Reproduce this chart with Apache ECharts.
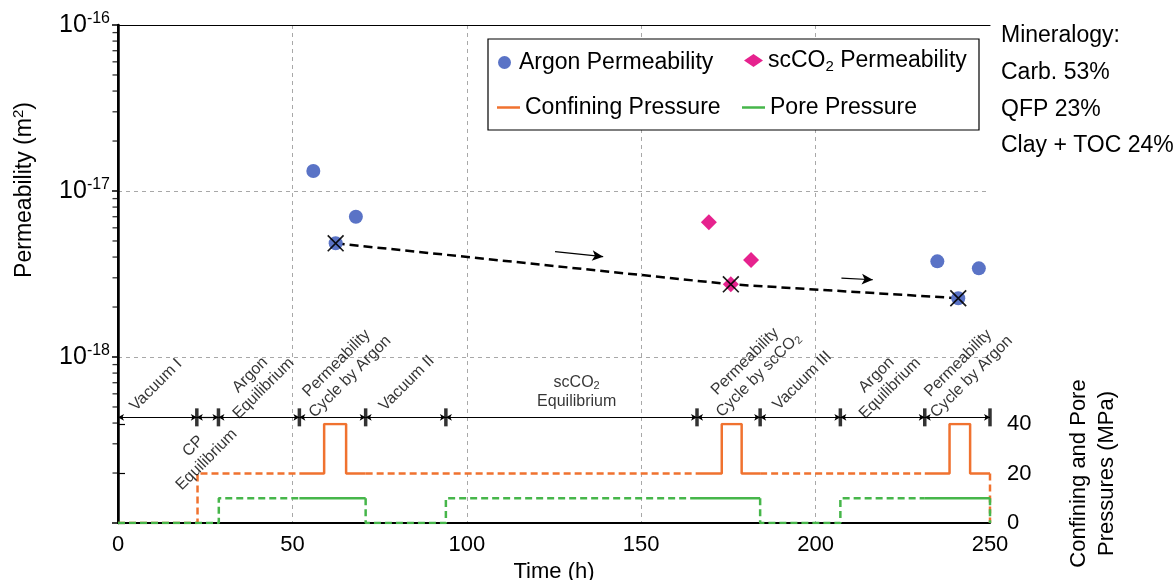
<!DOCTYPE html>
<html><head><meta charset="utf-8">
<script src="https://cdn.jsdelivr.net/npm/echarts@6/dist/echarts.min.js"></script>
<style>html,body{margin:0;padding:0;background:#fff}#c{width:1174px;height:580px}</style>
</head><body><div id="c"></div>
<script>
// ---------------- data ----------------
const argonTime = [56.0, 62.4, 68.2, 234.9, 240.9, 246.8];
const argonPerm = [1.32e-17, 4.84e-18, 7.0e-18, 3.77e-18, 2.26e-18, 3.42e-18];
const co2Time = [169.4, 175.7, 181.5];
const co2Perm = [6.48e-18, 2.74e-18, 3.84e-18];
const trendTime = [62.4, 175.7, 240.9];
const trendPerm = [4.84e-18, 2.74e-18, 2.26e-18];
const arrowTime = [[125.3, 139.1], [207.4, 216.4]];
const arrowPerm = [[4.31e-18, 4.02e-18], [2.99e-18, 2.92e-18]];
const phaseBounds = [0, 22.6, 28.8, 52.0, 71.0, 94.0, 166.0, 184.1, 207.1, 231.3, 250];
const timelineLevel = 4.33e-19;
const phaseNames = ['Vacuum I', 'Argon\nEquilibrium', 'Permeability\nCycle by Argon', 'Vacuum II',
  'scCO{s|2}\nEquilibrium', 'Permeability\nCycle by scCO{s|2}', 'Vacuum III', 'Argon\nEquilibrium',
  'Permeability\nCycle by Argon', 'CP\nEquilibrium'];
const phaseLabelTime = [10.9, 39.8, 64.6, 82.8, 131.5, 181.7, 196.2, 219.4, 242.8, 23.5];
const phaseLabelLevel = [6.78e-19, 7.1e-19, 8.35e-19, 6.95e-19, 6.18e-19, 8.55e-19, 7.2e-19, 7.1e-19, 8.35e-19, 2.64e-19];
const phaseLabelAngle = [45, 45, 45, 45, 0, 45, 45, 45, 45, 45];
const confTime = [0, 22.8, 22.8, 59.1, 59.1, 65.4, 65.4, 173.1, 173.1, 178.8, 178.8, 238.4, 238.4, 244.3, 244.3, 250, 250];
const confPres = [0, 0, 20, 20, 40, 40, 20, 20, 40, 40, 20, 20, 40, 40, 20, 20, 0];
const poreTime = [0, 28.9, 28.9, 71.0, 71.0, 94.0, 94.0, 184.1, 184.1, 207.1, 207.1, 250, 250];
const porePres = [0, 0, 10, 10, 0, 0, 10, 10, 0, 0, 10, 10, 0];
const solidWindows = [[52.0, 71.0], [166.0, 184.1], [231.3, 250]];
const permDecades = [-19, -18, -17, -16];
const mineralogy = ['Mineralogy:', 'Carb. 53%', 'QFP 23%', 'Clay + TOC 24%'];

// ---------------- helpers ----------------
const FONT = '"Liberation Sans", Arial, Helvetica, sans-serif';
const BLUE = '#5a73c6', PINK = '#e6228e', ORANGE = '#f0722f', GREEN = '#46b64a';

function splitSteps(ts, ps, windows) {
  const inside = x => windows.some(w => x > w[0] + 1e-9 && x < w[1] - 1e-9);
  const cuts = [].concat(...windows);
  const pieces = [];
  for (let i = 0; i < ts.length - 1; i++) {
    const x0 = ts[i], x1 = ts[i + 1], y0 = ps[i], y1 = ps[i + 1];
    if (x0 === x1) { pieces.push({ solid: inside(x0), pts: [[x0, y0], [x1, y1]] }); continue; }
    const xs = [x0, ...cuts.filter(c => c > x0 && c < x1), x1];
    for (let k = 0; k < xs.length - 1; k++) {
      pieces.push({ solid: inside((xs[k] + xs[k + 1]) / 2), pts: [[xs[k], y0], [xs[k + 1], y0]] });
    }
  }
  const out = [];
  pieces.forEach(p => {
    const last = out[out.length - 1];
    if (last && last.solid === p.solid) last.pts.push(p.pts[1]);
    else out.push({ solid: p.solid, pts: p.pts.slice() });
  });
  return out;
}

function pressureSeries(name, color, ts, ps) {
  const segs = splitSteps(ts, ps, solidWindows);
  const solid = segs.filter(s => s.solid), dashed = segs.filter(s => !s.solid);
  return solid.concat(dashed).map(s => ({
    type: 'line', name, xAxisIndex: 2, yAxisIndex: 2, data: s.pts,
    symbol: 'none', silent: true, z: 3,
    lineStyle: { color, width: 2.5, type: s.solid ? 'solid' : [7, 4] },
    itemStyle: { color }
  }));
}

const minorTicks = [];
permDecades.slice(0, 3).forEach(d => { for (let k = 2; k <= 9; k++) minorTicks.push([0, k * Math.pow(10, d)]); });

const segLines = [];
for (let i = 0; i < phaseBounds.length - 1; i++) {
  segLines.push([{ coord: [phaseBounds[i], timelineLevel] }, { coord: [phaseBounds[i + 1], timelineLevel] }]);
}

const chart = echarts.init(document.getElementById('c'));
const XMARK = 'path://M0,0.7L0.7,0L10,9.3L9.3,10Z M9.3,0L10,0.7L0.7,10L0,9.3Z';

const option = {
  animation: false,
  textStyle: { fontFamily: FONT },
  grid: [
    { left: 118, right: 184, top: 25, bottom: 57, containLabel: false, outerBoundsMode: 'none' },
    { left: 118, right: 184, top: 424, bottom: 57, containLabel: false, outerBoundsMode: 'none' }
  ],
  xAxis: [
    { gridIndex: 0, type: 'value', min: 0, max: 250, interval: 50, position: 'bottom',
      axisLine: { lineStyle: { color: '#000', width: 2 } }, axisTick: { show: false },
      axisLabel: { color: '#000', fontSize: 22, margin: 11, fontFamily: FONT },
      splitLine: { show: true, showMinLine: false, showMaxLine: false, lineStyle: { color: '#a8a8a8', type: [4, 4], width: 1 } },
      name: 'Time (h)', nameLocation: 'middle', nameGap: 36,
      nameTextStyle: { color: '#000', fontSize: 22, fontFamily: FONT } },
    { gridIndex: 0, type: 'value', min: 0, max: 250, position: 'top',
      axisLine: { show: true, onZero: false, lineStyle: { color: '#000', width: 1.2 } },
      axisTick: { show: false }, axisLabel: { show: false }, splitLine: { show: false } },
    { gridIndex: 1, type: 'value', min: 0, max: 250, show: false }
  ],
  yAxis: [
    { gridIndex: 0, type: 'log', logBase: 10, min: 1e-19, max: 1e-16, position: 'left',
      axisLine: { show: true, lineStyle: { color: '#000', width: 2.5 } },
      axisTick: { show: true, inside: false, length: 6, lineStyle: { color: '#000', width: 1.5 } },
      axisLabel: { margin: 8, fontFamily: FONT,
        formatter: v => { const e = Math.round(Math.log10(v)); return e === -19 ? '' : '{b|10}{e|' + e + '}'; },
        rich: { b: { fontSize: 25, color: '#000', fontFamily: FONT },
                e: { fontSize: 16, color: '#000', fontFamily: FONT, padding: [0, 0, 12, 0] } } },
      splitLine: { show: true, showMinLine: false, showMaxLine: false, lineStyle: { color: '#a8a8a8', type: [4, 4], width: 1 } } },
    { gridIndex: 0, type: 'value', position: 'right', min: 0, max: 1,
      axisLine: { show: true, lineStyle: { color: '#000', width: 2 } },
      axisTick: { show: false }, axisLabel: { show: false }, splitLine: { show: false } },
    { gridIndex: 1, type: 'value', position: 'right', min: 0, max: 40, interval: 20,
      axisLine: { show: false },
      axisTick: { show: true, inside: false, length: 7, lineStyle: { color: '#000', width: 1.2 } },
      axisLabel: { color: '#000', fontSize: 22, margin: 17, fontFamily: FONT },
      splitLine: { show: false },
      name: 'Confining and Pore\nPressures (MPa)', nameLocation: 'middle', nameRotate: 90, nameGap: 75,
      nameTextStyle: { color: '#000', fontSize: 22, lineHeight: 28, fontFamily: FONT } }
  ],
  legend: [
    { data: ['Argon Permeability'], left: 498, top: 51, itemWidth: 19, itemHeight: 13, padding: 0, z: 10,
      selectedMode: false, textStyle: { fontSize: 23, color: '#000', fontFamily: FONT } },
    { data: ['scCO2 Permeability'], left: 744, top: 49, itemWidth: 19, itemHeight: 13, padding: 0, z: 10,
      selectedMode: false, formatter: () => '{a|scCO}{s|2}{a| Permeability}',
      textStyle: { fontSize: 23, color: '#000', fontFamily: FONT,
        rich: { a: { fontSize: 23, color: '#000', fontFamily: FONT },
                s: { fontSize: 15, color: '#000', fontFamily: FONT, padding: [12, 0, 0, 0] } } } },
    { data: [{ name: 'Confining Pressure', icon: 'rect' }], left: 497, top: 96, itemWidth: 23, itemHeight: 2.5, padding: 0, z: 10,
      selectedMode: false, textStyle: { fontSize: 23, color: '#000', fontFamily: FONT } },
    { data: [{ name: 'Pore Pressure', icon: 'rect' }], left: 742, top: 96, itemWidth: 23, itemHeight: 2.5, padding: 0, z: 10,
      selectedMode: false, textStyle: { fontSize: 23, color: '#000', fontFamily: FONT } }
  ],
  graphic: [
    { type: 'rect', shape: { x: 488, y: 39, width: 491, height: 91 }, z: 3,
      style: { fill: '#fff', stroke: '#000', lineWidth: 1.2 } },
    ...mineralogy.map((t, i) => ({ type: 'text', x: 1001, y: 36 + i * 36.7, z: 5,
      style: { text: t, font: '23px ' + FONT, fill: '#000', textVerticalAlign: 'middle' } })),
    { type: 'text', x: 25, y: 190, rotation: Math.PI / 2, z: 5,
      style: { text: '{a|Permeability (m}{s|2}{a|)}', textAlign: 'center', textVerticalAlign: 'middle',
        rich: { a: { fontSize: 23, fontFamily: FONT, fill: '#000', color: '#000' },
                s: { fontSize: 15, fontFamily: FONT, fill: '#000', color: '#000', padding: [0, 0, 12, 0] } } } }
  ],
  series: [
    ...pressureSeries('Confining Pressure', ORANGE, confTime, confPres),
    ...pressureSeries('Pore Pressure', GREEN, poreTime, porePres),
    { type: 'scatter', name: 'minorTicks', xAxisIndex: 0, yAxisIndex: 0, data: minorTicks, silent: true, clip: false,
      symbol: 'rect', symbolSize: [5, 1.3], symbolOffset: [-3, 0], itemStyle: { color: '#000' }, z: 6 },
    { type: 'scatter', name: 'phases', xAxisIndex: 0, yAxisIndex: 0, silent: true, clip: false, z: 5,
      data: phaseBounds.slice(1).map(t => [t, timelineLevel]),
      symbol: 'rect', symbolSize: [3.5, 18], itemStyle: { color: '#000' },
      markLine: { silent: true, symbol: ['arrow', 'arrow'], symbolSize: [5, 6], label: { show: false },
        lineStyle: { color: '#000', width: 1.2, type: 'solid' }, emphasis: { disabled: true }, data: segLines } },
    { type: 'scatter', name: 'phaseLabels', xAxisIndex: 0, yAxisIndex: 0, silent: true, clip: false, z: 5,
      symbolSize: 0,
      data: phaseNames.map((n, i) => ({ value: [phaseLabelTime[i], phaseLabelLevel[i]], name: n,
        label: { rotate: phaseLabelAngle[i] } })),
      label: { show: true, position: 'inside', formatter: p => p.name, color: '#000', fontSize: 16, lineHeight: 19,
        fontFamily: FONT, align: 'center', verticalAlign: 'middle',
        rich: { s: { fontSize: 11, color: '#000', fontFamily: FONT, padding: [8, 0, 0, 0] } } } },
    { type: 'line', name: 'trend', xAxisIndex: 0, yAxisIndex: 0, silent: true, z: 4,
      data: trendTime.map((t, i) => [t, trendPerm[i]]), symbol: 'none',
      lineStyle: { color: '#000', width: 2.5, type: [9, 5] },
      markLine: { silent: true, symbol: ['none', 'arrow'], symbolSize: [8, 11], label: { show: false },
        lineStyle: { color: '#000', width: 1.2, type: 'solid' }, emphasis: { disabled: true },
        data: arrowTime.map((a, i) => [{ coord: [a[0], arrowPerm[i][0]] }, { coord: [a[1], arrowPerm[i][1]] }]) } },
    { type: 'scatter', name: 'Argon Permeability', xAxisIndex: 0, yAxisIndex: 0, z: 6,
      data: argonTime.map((t, i) => [t, argonPerm[i]]), symbol: 'circle', symbolSize: 14,
      itemStyle: { color: BLUE, opacity: 1 } },
    { type: 'scatter', name: 'scCO2 Permeability', xAxisIndex: 0, yAxisIndex: 0, z: 6,
      data: co2Time.map((t, i) => [t, co2Perm[i]]), symbol: 'diamond', symbolSize: 16,
      itemStyle: { color: PINK, opacity: 1 } },
    { type: 'scatter', name: 'cross', xAxisIndex: 0, yAxisIndex: 0, z: 7, silent: true,
      data: trendTime.map((t, i) => [t, trendPerm[i]]), symbol: XMARK, symbolSize: 17,
      itemStyle: { color: '#000', opacity: 0.9 } }
  ]
};
chart.setOption(option);
</script>
</body></html>
